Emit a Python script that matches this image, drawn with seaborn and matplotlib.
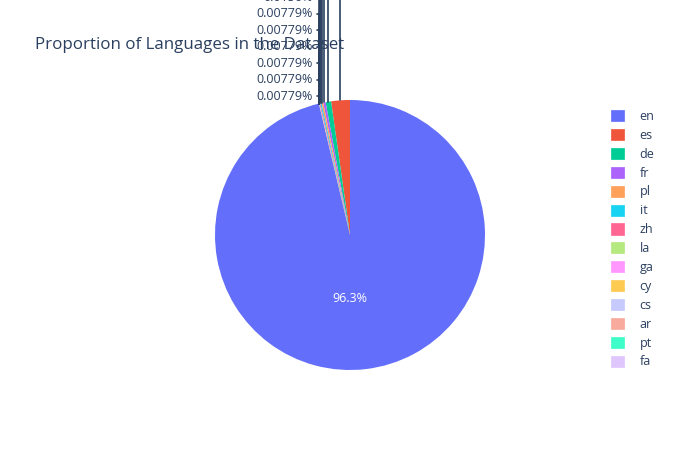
import numpy as np
import seaborn as sns
import matplotlib.pyplot as plt
from matplotlib.patches import Patch

# language counts (1 item = 0.00779%)
languages = ["en", "es", "de", "fr", "pl", "it", "zh", "la", "ga", "cy", "cs", "ar", "pt", "fa"]
counts = [12362, 288, 83, 38, 26, 19, 13, 2, 1, 1, 1, 1, 1, 1]
colors = ["#636efa", "#ef553b", "#00cc96", "#ab63fa", "#ffa15a", "#19d3f3", "#ff6692",
          "#b6e880", "#ff97ff", "#fecb52", "#c6cafd", "#f8ab9c", "#3ffdc9", "#dfc6fd"]

sns.set_style("white")
plt.rcParams['font.family'] = ['Open Sans', 'DejaVu Sans']
text_color = "#2a3f5f"

fig = plt.figure(figsize=(7, 4.5), dpi=100)
W, H = 700, 450
cx, cy, r = 350, 235, 135
ax = fig.add_axes([(cx - r) / W, (H - cy - r) / H, 2 * r / W, 2 * r / H])

shares = np.array(counts) / sum(counts)
pct = shares * 100
# first slice ends at 12 o'clock, the rest continue counter-clockwise
start = 90 - 360 * shares[0]
wedges, _ = ax.pie(counts, colors=colors, startangle=start, counterclock=True,
                   radius=1, wedgeprops=dict(linewidth=0))
ax.set_xlim(-1, 1)
ax.set_ylim(-1, 1)
ax.set_aspect('equal')
ax.axis('off')

# inside label for the big slice
ax.text(0, -63 / r, f"{pct[0]:.3g}%", color="white", ha="center", va="center", fontsize=9)

# outside labels, stacked upwards from the slice next to the big one
label_right = (313 - cx) / r
step = 16.5 / r
base = (cy - 96) / r
order = list(range(len(counts) - 1, 0, -1))
for k, i in enumerate(order):
    w = wedges[i]
    mid = np.deg2rad((w.theta1 + w.theta2) / 2)
    x0, y0 = np.cos(mid), np.sin(mid)
    ly = base + step * k
    ax.plot([x0, x0, label_right + 0.03], [y0, ly, ly], color=text_color, lw=1.2,
            clip_on=False, solid_joinstyle='miter')
    ax.text(label_right, ly, f"{pct[i]:.3g}%", color=text_color, ha="right", va="center",
            fontsize=9, clip_on=False)

fig.text(35 / W, 1 - 45 / H, "Proportion of Languages in the Dataset", color=text_color,
         fontsize=12.2, ha="left", va="center")

handles = [Patch(facecolor=c, edgecolor=c, linewidth=0.5) for c in colors]
fig.legend(handles, languages, loc="upper left", bbox_to_anchor=(606 / W, 1 - 105 / H),
           frameon=False, fontsize=9, handlelength=1.0, handleheight=1.0,
           handletextpad=1.3, labelspacing=0.47, labelcolor=text_color, borderaxespad=0)

fig.savefig("out.png", dpi=100)
